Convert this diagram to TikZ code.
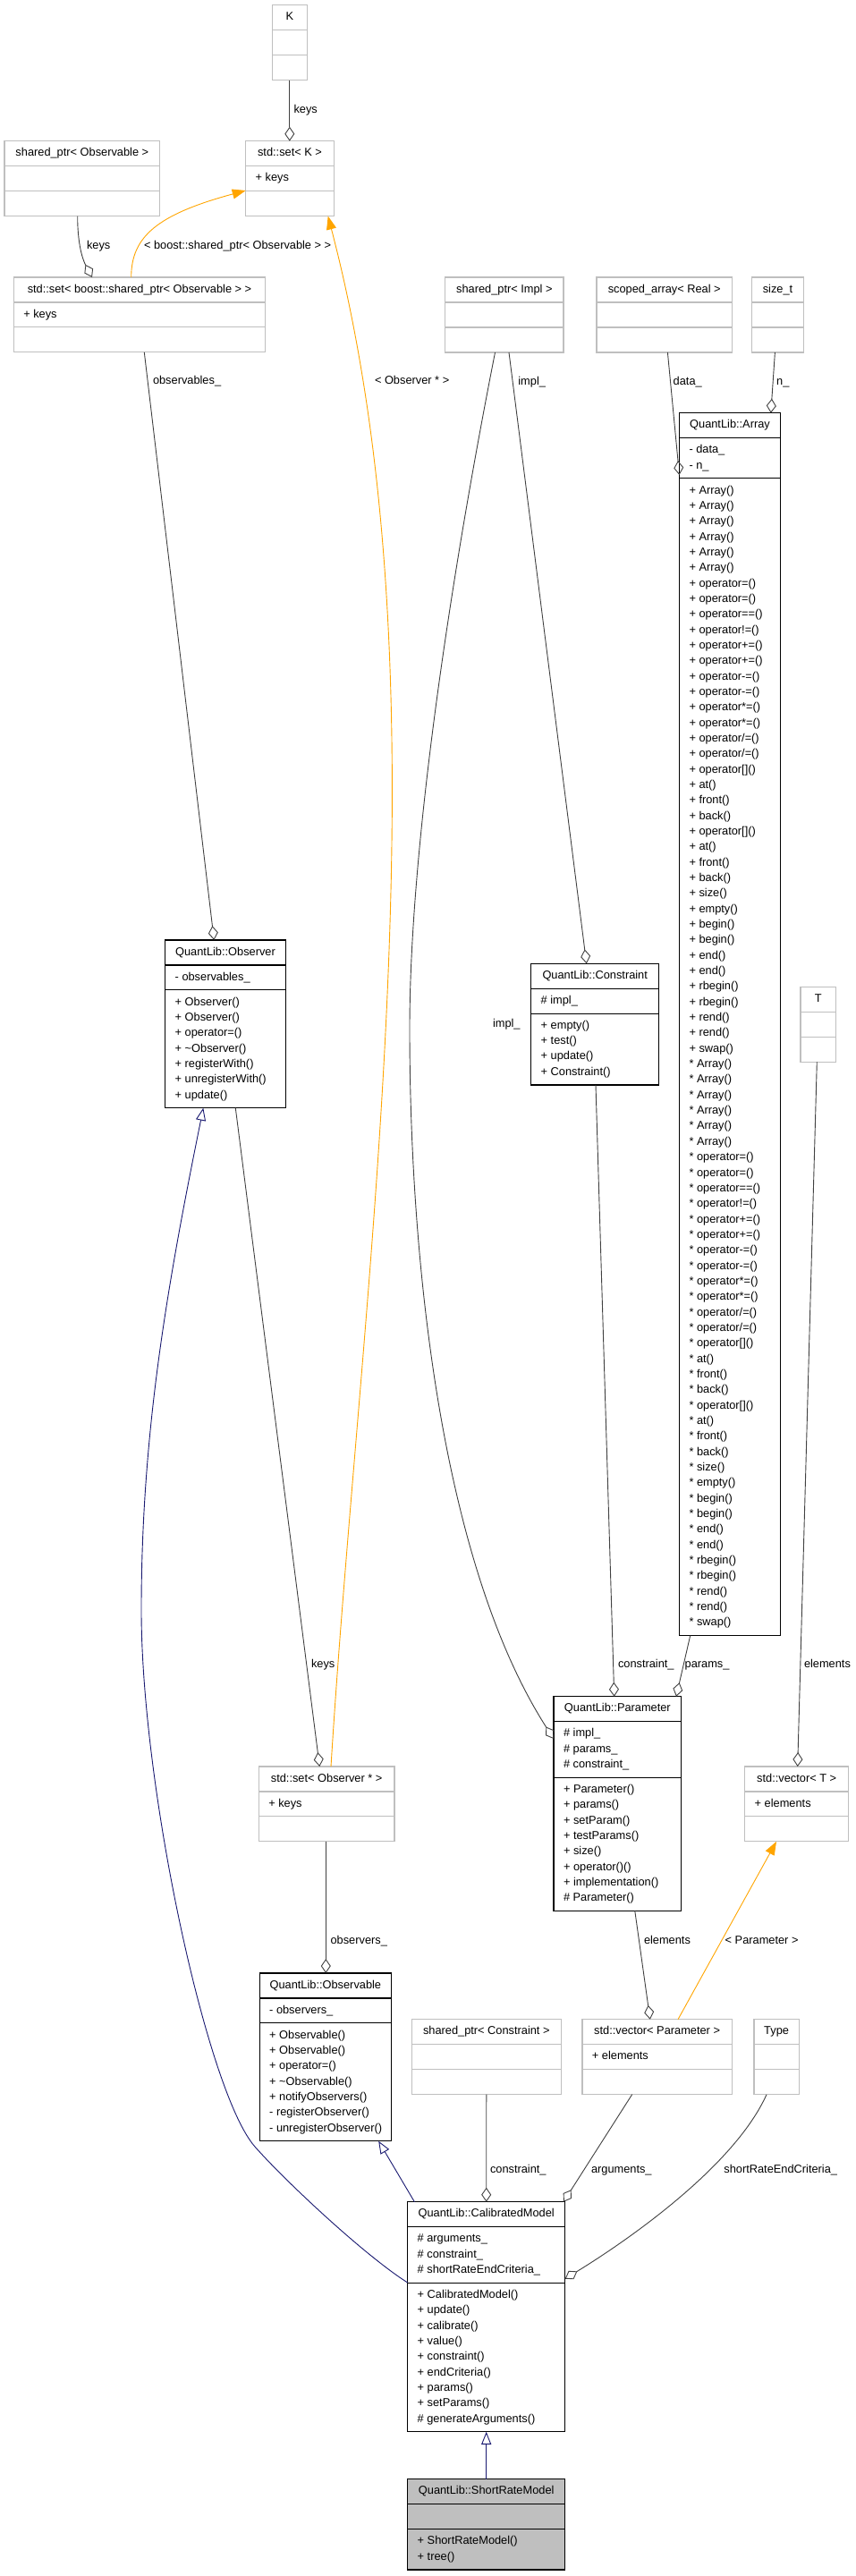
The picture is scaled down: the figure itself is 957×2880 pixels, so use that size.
\documentclass[tikz,border=0pt]{standalone}
\usepackage{fontspec}
\setmainfont{Liberation Sans}
\usetikzlibrary{arrows.meta,calc}
\definecolor{boxgray}{RGB}{191,191,191}
\definecolor{edgegray}{RGB}{64,64,64}
\definecolor{navyline}{RGB}{25,25,112}
\definecolor{tmplorange}{RGB}{255,165,0}
\definecolor{srfill}{RGB}{191,191,191}
\tikzset{
 txt/.style={font=\fontsize{12.8pt}{15pt}\selectfont, inner sep=0pt, outer sep=0pt, text height=9pt, text depth=2.5pt, anchor=west},
 ttl/.style={txt, anchor=center},
 gbox/.style={draw=boxgray, line width=1.2pt},
 bbox/.style={draw=black, line width=1.2pt},
 sbox/.style={draw=black, line width=1.2pt, fill=srfill},
 agg/.style={draw=edgegray, line width=0.9pt, -{Diamond[open, length=16pt, width=11pt]}},
 inh/.style={draw=navyline, line width=0.9pt, -{Triangle[open, length=14pt, width=11pt]}},
 tpl/.style={draw=tmplorange, line width=0.9pt, -{Triangle[length=15pt, width=11pt]}},
 lbl/.style={txt},
}
\newcommand\classbox[8]{%
  \pgfmathsetmacro\hA{ifthenelse(#7==0,28,#7*17.34+10.5)}%
  \pgfmathsetmacro\hB{ifthenelse(#8==0,28,#8*17.34+10.5)}%
  \pgfmathsetmacro\hT{28+\hA+\hB}%
  \expandafter\xdef\csname hA@#1\endcsname{\hA}%
  \node[#5, minimum width=#4pt, minimum height=\hT pt, anchor=north west, inner sep=0pt, outer sep=0pt] (#1) at (#2,#3) {};
  \draw[#5] ([yshift=-28pt]#1.north west) -- ([yshift=-28pt]#1.north east);
  \draw[#5] ([yshift=-28pt-\hA pt]#1.north west) -- ([yshift=-28pt-\hA pt]#1.north east);
  \node[ttl] (#1-t) at ([yshift=-14pt]#1.north) {#6};
}
\newcommand\attrrows[2]{%
  \foreach \s [count=\i] in #2 {
    \pgfmathsetmacro\yy{28+13.9+17.34*(\i-1)}
    \node[txt] (#1-a\i) at ([shift={(11pt,-\yy pt)}]#1.north west) {\s};
  }}
\newcommand\methrows[2]{%
  \foreach \s [count=\i] in #2 {
    \pgfmathsetmacro\yy{28+\csname hA@#1\endcsname+13.9+17.34*(\i-1)}
    \node[txt] (#1-m\i) at ([shift={(11pt,-\yy pt)}]#1.north west) {\s};
  }}
\def\arrmeths{+ Array(),+ Array(),+ Array(),+ Array(),+ Array(),+ Array(),+ operator=(),+ operator=(),+ operator==(),+ operator!=(),+ operator+=(),+ operator+=(),+ operator-=(),+ operator-=(),+ operator*=(),+ operator*=(),+ operator/=(),+ operator/=(),+ operator[](),+ at(),+ front(),+ back(),+ operator[](),+ at(),+ front(),+ back(),+ size(),+ empty(),+ begin(),+ begin(),+ end(),+ end(),+ rbegin(),+ rbegin(),+ rend(),+ rend(),+ swap(),* Array(),* Array(),* Array(),* Array(),* Array(),* Array(),* operator=(),* operator=(),* operator==(),* operator!=(),* operator+=(),* operator+=(),* operator-=(),* operator-=(),* operator*=(),* operator*=(),* operator/=(),* operator/=(),* operator[](),* at(),* front(),* back(),* operator[](),* at(),* front(),* back(),* size(),* empty(),* begin(),* begin(),* end(),* end(),* rbegin(),* rbegin(),* rend(),* rend(),* swap()}
\begin{document}
\begin{tikzpicture}[x=1pt,y=-1pt]
\useasboundingbox (0,0) rectangle (957,2880);
% ---- boxes
\classbox{K}{304.3}{5.7}{39}{gbox}{K}{0}{0}
\classbox{setK}{274.7}{157.7}{98.6}{gbox}{std::set< K >}{1}{0}
\attrrows{setK}{{+ keys}}
\classbox{spObs}{5}{157.7}{173.7}{gbox}{shared\_ptr< Observable >}{0}{0}
\classbox{setSpObs}{15.3}{310}{281.4}{gbox}{std::set< boost::shared\_ptr< Observable > >}{1}{0}
\attrrows{setSpObs}{{+ keys}}
\classbox{spImpl}{497.7}{310}{132.3}{gbox}{shared\_ptr< Impl >}{0}{0}
\classbox{scopedArr}{667}{310}{151.5}{gbox}{scoped\_array< Real >}{0}{0}
\classbox{sizet}{840.5}{310}{58}{gbox}{size\_t}{0}{0}
\classbox{array}{759.5}{461.7}{113}{bbox}{QuantLib::Array}{2}{74}
\attrrows{array}{{- data\_,- n\_}}
\methrows{array}{\arrmeths}
\classbox{observer}{184.7}{1051}{134.6}{bbox}{QuantLib::Observer}{1}{7}
\attrrows{observer}{{- observables\_}}
\methrows{observer}{{+ Observer(),+ Observer(),+ operator=(),+ \textasciitilde Observer(),+ registerWith(),+ unregisterWith(),+ update()}}
\classbox{constraint}{593.7}{1077.3}{143}{bbox}{QuantLib::Constraint}{1}{4}
\attrrows{constraint}{{\# impl\_}}
\methrows{constraint}{{+ empty(),+ test(),+ update(),+ Constraint()}}
\classbox{T}{895}{1103.4}{39.3}{gbox}{T}{0}{0}
\classbox{parameter}{619}{1896.7}{142.7}{bbox}{QuantLib::Parameter}{3}{8}
\attrrows{parameter}{{\# impl\_,\# params\_,\# constraint\_}}
\methrows{parameter}{{+ Parameter(),+ params(),+ setParam(),+ testParams(),+ size(),+ operator()(),+ implementation(),\# Parameter()}}
\classbox{vecT}{832.7}{1975}{116}{gbox}{std::vector< T >}{1}{0}
\attrrows{vecT}{{+ elements}}
\classbox{setObsPtr}{289.3}{1975}{151.7}{gbox}{std::set< Observer * >}{1}{0}
\attrrows{setObsPtr}{{+ keys}}
\classbox{observable}{290.2}{2206}{147.3}{bbox}{QuantLib::Observable}{1}{7}
\attrrows{observable}{{- observers\_}}
\methrows{observable}{{+ Observable(),+ Observable(),+ operator=(),+ \textasciitilde Observable(),+ notifyObservers(),- registerObserver(),- unregisterObserver()}}
\classbox{spConstraint}{460.3}{2257.7}{167}{gbox}{shared\_ptr< Constraint >}{0}{0}
\classbox{vecParam}{650.9}{2257.7}{167.4}{gbox}{std::vector< Parameter >}{1}{0}
\attrrows{vecParam}{{+ elements}}
\classbox{Type}{842.9}{2257.7}{50.4}{gbox}{Type}{0}{0}
\classbox{calibrated}{455.7}{2461.7}{176}{bbox}{QuantLib::CalibratedModel}{3}{9}
\attrrows{calibrated}{{\# arguments\_,\# constraint\_,\# shortRateEndCriteria\_}}
\methrows{calibrated}{{+ CalibratedModel(),+ update(),+ calibrate(),+ value(),+ constraint(),+ endCriteria(),+ params(),+ setParams(),\# generateArguments()}}
\classbox{shortRate}{455.7}{2771.7}{176}{sbox}{QuantLib::ShortRateModel}{0}{2}
\methrows{shortRate}{{+ ShortRateModel(),+ tree()}}
% ---- connectors
\draw[agg] (K.south) -- (K.south |- setK.north);
\draw[agg] ([xshift=81.7pt]spObs.south west) .. controls (86.7,280) and (95,295) .. ([xshift=87.7pt]setSpObs.north west);
\draw[tpl] ([xshift=131.4pt]setSpObs.north west) .. controls (146.7,265) and (175,240) .. ([yshift=-55.3pt]setK.north west);
\draw[tpl] ([xshift=80.7pt]setObsPtr.north west) .. controls (404,1425) and (505,770) .. ([xshift=92pt]setK.south west);
\draw[agg] ([xshift=55.8pt]spImpl.south west) .. controls (503,650) and (458,950) .. (458,1150) .. controls (458,1400) and (491,1744) .. ([yshift=-47.3pt]parameter.north west);
\draw[agg] ([xshift=71.3pt]spImpl.south west) -- ([xshift=62pt]constraint.north west);
\draw[agg] ([xshift=79.4pt]scopedArr.south west) -- ([yshift=-69.3pt]array.north west);
\draw[agg] ([xshift=25.9pt]sizet.south west) -- ([xshift=102.3pt]array.north west);
\draw[agg] ([xshift=146pt]setSpObs.south west) -- ([xshift=54.6pt]observer.north west);
\draw[agg] ([xshift=72.3pt]constraint.south west) -- ([xshift=67.7pt]parameter.north west);
\draw[agg] ([xshift=12.2pt]array.south west) -- ([xshift=137pt]parameter.north west);
\draw[agg] ([xshift=18.3pt]T.south west) -- ([xshift=59pt]vecT.north west);
\draw[agg] ([xshift=78.6pt]observer.south west) -- ([xshift=68pt]setObsPtr.north west);
\draw[agg] ([xshift=75pt]setObsPtr.south west) -- ([xshift=74.1pt]observable.north west);
\draw[agg] ([xshift=90.8pt]parameter.south west) -- ([xshift=75.9pt]vecParam.north west);
\draw[tpl] ([xshift=107.1pt]vecParam.north west) -- ([xshift=35.3pt]vecT.south west);
\draw[agg] ([xshift=83.5pt]spConstraint.south west) -- ([xshift=88pt]calibrated.north west);
\draw[agg] ([xshift=55.8pt]vecParam.south west) -- ([xshift=-1.7pt]calibrated.north east);
\draw[agg] ([xshift=14.1pt]Type.south west) .. controls (822.5,2418.5) and (711,2499) .. ([yshift=-86pt]calibrated.north east);
\draw[inh] ([yshift=-90.3pt]calibrated.north west) .. controls (406.7,2520.8) and (318,2437.5) .. (285,2400) .. controls (232,2340) and (158,2000) .. (158,1800) .. controls (158,1600) and (187.5,1435) .. ([xshift=42.6pt]observer.south west);
\draw[inh] ([xshift=7.7pt]calibrated.north west) -- ([xshift=133pt]observable.south west);
\draw[inh] (shortRate.north) -- (calibrated.south);
% ---- labels
\node[lbl] (l1) at (328.5,123) {keys};
\node[lbl] (l2) at (97,275) {keys};
\node[lbl] (l3) at (161,275) {< boost::shared\_ptr< Observable > >};
\node[lbl] (l4) at (419,426.7) {< Observer * >};
\node[lbl] (l5) at (579.4,427) {impl\_};
\node[lbl] (l6) at (752.7,427) {data\_};
\node[lbl] (l7) at (868.2,427) {n\_};
\node[lbl] (l8) at (171,426.7) {observables\_};
\node[lbl] (l9) at (551,1145) {impl\_};
\node[lbl] (l10) at (691,1861.7) {constraint\_};
\node[lbl] (l11) at (765.7,1861.7) {params\_};
\node[lbl] (l12) at (899,1861.7) {elements};
\node[lbl] (l13) at (348,1861.7) {keys};
\node[lbl] (l14) at (369.6,2170.7) {observers\_};
\node[lbl] (l15) at (720,2170.7) {elements};
\node[lbl] (l16) at (810.7,2170.7) {< Parameter >};
\node[lbl] (l17) at (548,2426.7) {constraint\_};
\node[lbl] (l18) at (661,2426.7) {arguments\_};
\node[lbl] (l19) at (809.4,2426.7) {shortRateEndCriteria\_};
\end{tikzpicture}
\end{document}
